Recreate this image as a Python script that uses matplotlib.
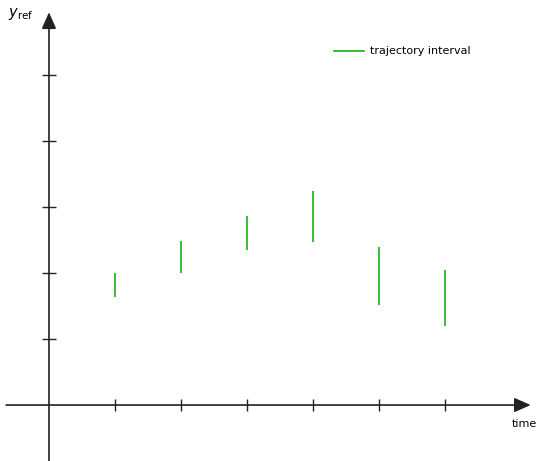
import matplotlib
matplotlib.use("Agg")
import matplotlib.pyplot as plt
from matplotlib.lines import Line2D

# trajectory intervals at each time step
times = [1, 2, 3, 4, 5, 6]
lower = [1.63, 2.00, 2.35, 2.47, 1.52, 1.19]
upper = [2.00, 2.48, 2.86, 3.24, 2.39, 2.04]
y_ticks = [1, 2, 3, 4, 5]

green = "#14b314"
axis_color = "#222222"

fig = plt.figure(figsize=(5.40, 4.61), dpi=100)
ax = fig.add_axes([0, 0, 1, 1])
ax.set_xlim(-0.742, 7.44)
ax.set_ylim(-0.848, 6.136)
ax.axis("off")

# axes with arrow heads
ax.annotate("", xy=(7.30, 0), xytext=(-0.65, 0),
            arrowprops=dict(arrowstyle="-|>,head_length=0.5,head_width=0.22",
                            color=axis_color, lw=1.2,
                            mutation_scale=20, shrinkA=0, shrinkB=0))
ax.annotate("", xy=(0, 5.95), xytext=(0, -0.85),
            arrowprops=dict(arrowstyle="-|>,head_length=0.5,head_width=0.22",
                            color=axis_color, lw=1.2,
                            mutation_scale=20, shrinkA=0, shrinkB=0))

# tick marks
ax.plot(times, [0] * len(times), linestyle="none", marker="|",
        markersize=9, markeredgewidth=1.0, color=axis_color)
ax.plot([0] * len(y_ticks), y_ticks, linestyle="none", marker="_",
        markersize=10, markeredgewidth=1.0, color=axis_color)

# intervals
ax.vlines(times, lower, upper, color=green, lw=1.2)

ax.text(7.39, -0.29, "time", fontsize=8, ha="right", va="center")
ax.text(-0.62, 5.93, r"$y_{\mathrm{ref}}$", fontsize=10.5, ha="left", va="center")

handle = Line2D([], [], color=green, lw=1.2)
ax.legend([handle], ["trajectory interval"], loc="upper left",
          bbox_to_anchor=(0.600, 0.921), frameon=False, fontsize=8,
          handlelength=2.7, handletextpad=0.5)

fig.savefig("out.png", dpi=100)
